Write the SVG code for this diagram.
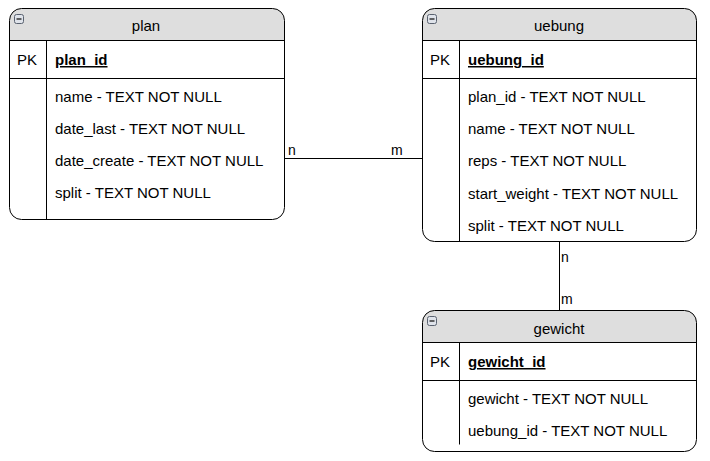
<svg xmlns="http://www.w3.org/2000/svg" width="710" height="461" viewBox="0 0 710 461">
<defs>
<style>
text{font-family:"Liberation Sans",Arial,sans-serif;font-size:15px;fill:#000}
.title{text-anchor:middle}
.pk{font-weight:bold;text-decoration:underline}
.lbl{font-size:14px}
.box{fill:none;stroke:#000;stroke-width:1}
.hdr{fill:#dedede;stroke:none}
.ln{stroke:#000;stroke-width:1;fill:none}
.ico{fill:#dfe3ea;stroke:#5a6270;stroke-width:1}
.icol{stroke:#333;stroke-width:1.5}
</style>
</defs>
<g id="connectors">
<line class="ln" x1="284.5" y1="158.5" x2="422.5" y2="158.5"/>
<text class="lbl" x="288" y="155">n</text>
<text class="lbl" x="391" y="155">m</text>
<line class="ln" x1="559.5" y1="241.5" x2="559.5" y2="310.5"/>
<text class="lbl" x="561" y="262">n</text>
<text class="lbl" x="561" y="304">m</text>
</g>
<g id="plan">
<path class="hdr" d="M9.5,40.5 V20.5 A12,12 0 0 1 21.5,8.5 H272.5 A12,12 0 0 1 284.5,20.5 V40.5 Z"/>
<rect class="box" x="9.5" y="8.5" width="275" height="211" rx="12"/>
<line class="ln" x1="9.5" y1="40.5" x2="284.5" y2="40.5"/>
<line class="ln" x1="9.5" y1="78.5" x2="284.5" y2="78.5"/>
<line class="ln" x1="46.5" y1="40.5" x2="46.5" y2="219.5"/>
<rect class="ico" x="14.5" y="14.5" width="9" height="9" rx="2"/>
<line class="icol" x1="16.5" y1="19" x2="21.5" y2="19"/>
<text class="title" x="146" y="31">plan</text>
<text x="17" y="65">PK</text>
<text class="pk" x="55" y="65">plan_id</text>
<text x="55" y="102">name - TEXT NOT NULL</text>
<text x="55" y="134">date_last - TEXT NOT NULL</text>
<text x="55" y="166">date_create - TEXT NOT NULL</text>
<text x="55" y="198">split - TEXT NOT NULL</text>
</g>
<g id="uebung">
<path class="hdr" d="M422.5,40.5 V20.5 A12,12 0 0 1 434.5,8.5 H684.5 A12,12 0 0 1 696.5,20.5 V40.5 Z"/>
<rect class="box" x="422.5" y="8.5" width="274" height="233" rx="12"/>
<line class="ln" x1="422.5" y1="40.5" x2="696.5" y2="40.5"/>
<line class="ln" x1="422.5" y1="78.5" x2="696.5" y2="78.5"/>
<line class="ln" x1="459.5" y1="40.5" x2="459.5" y2="241.5"/>
<rect class="ico" x="427.5" y="14.5" width="9" height="9" rx="2"/>
<line class="icol" x1="429.5" y1="19" x2="434.5" y2="19"/>
<text class="title" x="559" y="31">uebung</text>
<text x="430" y="65">PK</text>
<text class="pk" x="468" y="65">uebung_id</text>
<text x="468" y="102">plan_id - TEXT NOT NULL</text>
<text x="468" y="134">name - TEXT NOT NULL</text>
<text x="468" y="166">reps - TEXT NOT NULL</text>
<text x="468" y="199">start_weight - TEXT NOT NULL</text>
<text x="468" y="231">split - TEXT NOT NULL</text>
</g>
<g id="gewicht">
<path class="hdr" d="M422.5,342.5 V322.5 A12,12 0 0 1 434.5,310.5 H684.5 A12,12 0 0 1 696.5,322.5 V342.5 Z"/>
<rect class="box" x="422.5" y="310.5" width="274" height="141" rx="12"/>
<line class="ln" x1="422.5" y1="342.5" x2="696.5" y2="342.5"/>
<line class="ln" x1="422.5" y1="380.5" x2="696.5" y2="380.5"/>
<line class="ln" x1="459.5" y1="342.5" x2="459.5" y2="444.5"/>
<rect class="ico" x="427.5" y="316.5" width="9" height="9" rx="2"/>
<line class="icol" x1="429.5" y1="321" x2="434.5" y2="321"/>
<text class="title" x="559" y="334">gewicht</text>
<text x="430" y="367">PK</text>
<text class="pk" x="468" y="367">gewicht_id</text>
<text x="468" y="404">gewicht - TEXT NOT NULL</text>
<text x="468" y="436">uebung_id - TEXT NOT NULL</text>
</g>
</svg>
